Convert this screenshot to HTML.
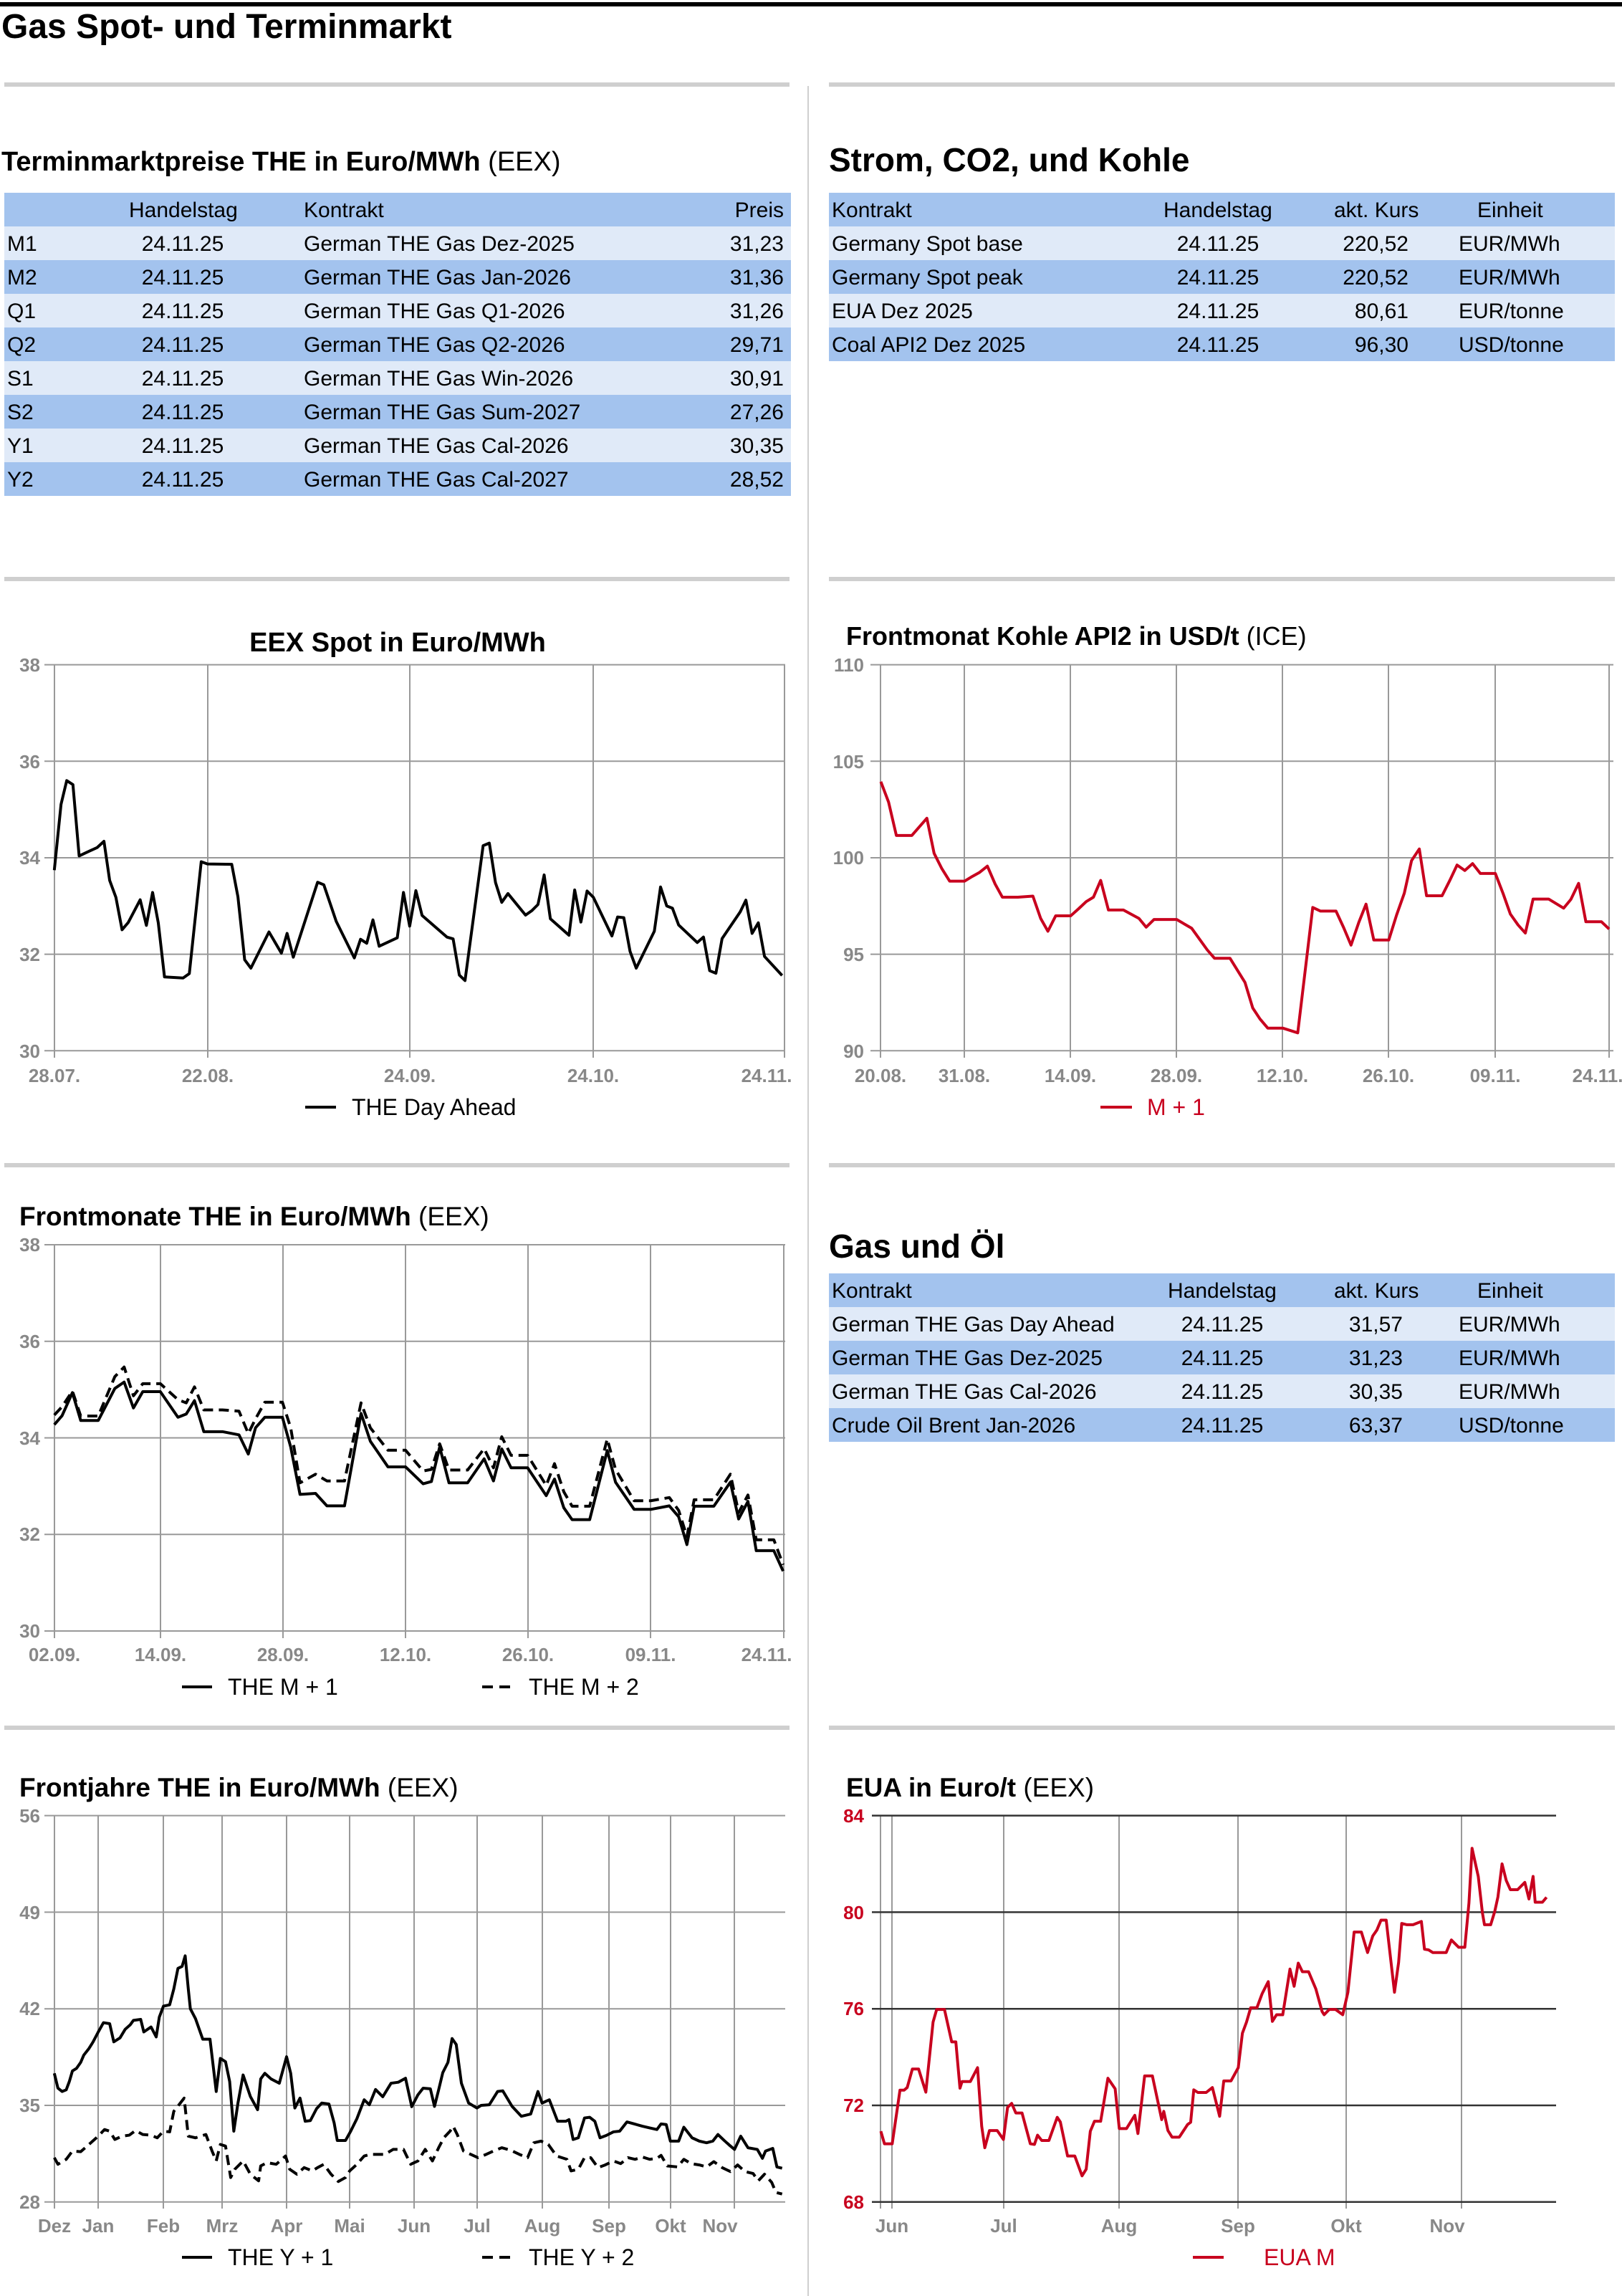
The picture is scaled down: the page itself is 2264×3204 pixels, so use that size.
<!DOCTYPE html>
<html><head><meta charset="utf-8"><style>
html,body{margin:0;padding:0;background:#fff;}
svg{display:block;font-family:"Liberation Sans",Arial,sans-serif;}
.tl{font-size:26px;font-weight:bold;fill:#888;}
.tb{font-size:30px;fill:#000;}
.g{stroke:#999;stroke-width:2;fill:none;}
.d{fill:none;stroke-width:4;stroke-linejoin:round;vector-effect:non-scaling-stroke;}
</style></head><body>
<svg width="2264" height="3204" viewBox="0 0 2264 3204" xmlns="http://www.w3.org/2000/svg">
<rect x="0" y="3" width="2264" height="6" fill="#000"/>
<text x="2" y="53" font-size="48" font-weight="bold">Gas Spot- und Terminmarkt</text>
<g fill="#cfcfcf">
<rect x="6" y="115" width="1096" height="6"/><rect x="1157" y="115" width="1097" height="6"/>
<rect x="6" y="805" width="1096" height="6"/><rect x="1157" y="805" width="1097" height="6"/>
<rect x="6" y="1623" width="1096" height="6"/><rect x="1157" y="1623" width="1097" height="6"/>
<rect x="6" y="2408" width="1096" height="6"/><rect x="1157" y="2408" width="1097" height="6"/>
<rect x="1127" y="120" width="2" height="3084"/>
</g>

<!-- Left table -->
<text x="2" y="238" font-size="38"><tspan font-weight="bold">Terminmarktpreise THE in Euro/MWh</tspan> (EEX)</text>
<g>
<rect x="6" y="269" width="1098" height="47" fill="#a3c3ee"/>
<rect x="6" y="316" width="1098" height="47" fill="#e0eaf8"/>
<rect x="6" y="363" width="1098" height="47" fill="#a3c3ee"/>
<rect x="6" y="410" width="1098" height="47" fill="#e0eaf8"/>
<rect x="6" y="457" width="1098" height="47" fill="#a3c3ee"/>
<rect x="6" y="504" width="1098" height="47" fill="#e0eaf8"/>
<rect x="6" y="551" width="1098" height="47" fill="#a3c3ee"/>
<rect x="6" y="598" width="1098" height="47" fill="#e0eaf8"/>
<rect x="6" y="645" width="1098" height="47" fill="#a3c3ee"/>
</g>
<g class="tb">
<text x="180" y="303">Handelstag</text><text x="424" y="303">Kontrakt</text><text x="1094" y="303" text-anchor="end">Preis</text>
<text x="10" y="350">M1</text><text x="255" y="350" text-anchor="middle">24.11.25</text><text x="424" y="350">German THE Gas Dez-2025</text><text x="1094" y="350" text-anchor="end">31,23</text>
<text x="10" y="397">M2</text><text x="255" y="397" text-anchor="middle">24.11.25</text><text x="424" y="397">German THE Gas Jan-2026</text><text x="1094" y="397" text-anchor="end">31,36</text>
<text x="10" y="444">Q1</text><text x="255" y="444" text-anchor="middle">24.11.25</text><text x="424" y="444">German THE Gas Q1-2026</text><text x="1094" y="444" text-anchor="end">31,26</text>
<text x="10" y="491">Q2</text><text x="255" y="491" text-anchor="middle">24.11.25</text><text x="424" y="491">German THE Gas Q2-2026</text><text x="1094" y="491" text-anchor="end">29,71</text>
<text x="10" y="538">S1</text><text x="255" y="538" text-anchor="middle">24.11.25</text><text x="424" y="538">German THE Gas Win-2026</text><text x="1094" y="538" text-anchor="end">30,91</text>
<text x="10" y="585">S2</text><text x="255" y="585" text-anchor="middle">24.11.25</text><text x="424" y="585">German THE Gas Sum-2027</text><text x="1094" y="585" text-anchor="end">27,26</text>
<text x="10" y="632">Y1</text><text x="255" y="632" text-anchor="middle">24.11.25</text><text x="424" y="632">German THE Gas Cal-2026</text><text x="1094" y="632" text-anchor="end">30,35</text>
<text x="10" y="679">Y2</text><text x="255" y="679" text-anchor="middle">24.11.25</text><text x="424" y="679">German THE Gas Cal-2027</text><text x="1094" y="679" text-anchor="end">28,52</text>
</g>

<!-- Right table 1 -->
<text x="1157" y="239" font-size="46" font-weight="bold">Strom, CO2, und Kohle</text>
<rect x="1157" y="269" width="1097" height="47" fill="#a3c3ee"/>
<rect x="1157" y="316" width="1097" height="47" fill="#e0eaf8"/>
<rect x="1157" y="363" width="1097" height="47" fill="#a3c3ee"/>
<rect x="1157" y="410" width="1097" height="47" fill="#e0eaf8"/>
<rect x="1157" y="457" width="1097" height="47" fill="#a3c3ee"/>
<g class="tb">
<text x="1161" y="303">Kontrakt</text><text x="1624" y="303">Handelstag</text><text x="1862" y="303">akt. Kurs</text><text x="2062" y="303">Einheit</text>
<text x="1161" y="350">Germany Spot base</text><text x="1700" y="350" text-anchor="middle">24.11.25</text><text x="1966" y="350" text-anchor="end">220,52</text><text x="2036" y="350">EUR/MWh</text>
<text x="1161" y="397">Germany Spot peak</text><text x="1700" y="397" text-anchor="middle">24.11.25</text><text x="1966" y="397" text-anchor="end">220,52</text><text x="2036" y="397">EUR/MWh</text>
<text x="1161" y="444">EUA Dez 2025</text><text x="1700" y="444" text-anchor="middle">24.11.25</text><text x="1966" y="444" text-anchor="end">80,61</text><text x="2036" y="444">EUR/tonne</text>
<text x="1161" y="491">Coal API2 Dez 2025</text><text x="1700" y="491" text-anchor="middle">24.11.25</text><text x="1966" y="491" text-anchor="end">96,30</text><text x="2036" y="491">USD/tonne</text>
</g>

<!-- Right table 2 -->
<text x="1157" y="1755" font-size="46" font-weight="bold">Gas und Öl</text>
<rect x="1157" y="1777" width="1097" height="47" fill="#a3c3ee"/>
<rect x="1157" y="1824" width="1097" height="47" fill="#e0eaf8"/>
<rect x="1157" y="1871" width="1097" height="47" fill="#a3c3ee"/>
<rect x="1157" y="1918" width="1097" height="47" fill="#e0eaf8"/>
<rect x="1157" y="1965" width="1097" height="47" fill="#a3c3ee"/>
<g class="tb">
<text x="1161" y="1811">Kontrakt</text><text x="1630" y="1811">Handelstag</text><text x="1862" y="1811">akt. Kurs</text><text x="2062" y="1811">Einheit</text>
<text x="1161" y="1858">German THE Gas Day Ahead</text><text x="1706" y="1858" text-anchor="middle">24.11.25</text><text x="1958" y="1858" text-anchor="end">31,57</text><text x="2036" y="1858">EUR/MWh</text>
<text x="1161" y="1905">German THE Gas Dez-2025</text><text x="1706" y="1905" text-anchor="middle">24.11.25</text><text x="1958" y="1905" text-anchor="end">31,23</text><text x="2036" y="1905">EUR/MWh</text>
<text x="1161" y="1952">German THE Gas Cal-2026</text><text x="1706" y="1952" text-anchor="middle">24.11.25</text><text x="1958" y="1952" text-anchor="end">30,35</text><text x="2036" y="1952">EUR/MWh</text>
<text x="1161" y="1999">Crude Oil Brent Jan-2026</text><text x="1706" y="1999" text-anchor="middle">24.11.25</text><text x="1958" y="1999" text-anchor="end">63,37</text><text x="2036" y="1999">USD/tonne</text>
</g>

<!-- EEX Spot -->
<text x="555" y="909" font-size="38" font-weight="bold" text-anchor="middle">EEX Spot in Euro/MWh</text>
<g class="g">
<path d="M62 927.6H1096M62 1062.3H1096M62 1197H1096M62 1331.6H1096M62 1466.3H1096"/>
<path d="M76 927.6V1476M290 927.6V1476M572 927.6V1476M828 927.6V1476M1095 927.6V1476"/>
</g>
<g class="tl" text-anchor="end">
<text x="56" y="937">38</text><text x="56" y="1072">36</text><text x="56" y="1206">34</text><text x="56" y="1341">32</text><text x="56" y="1476">30</text>
</g>
<g class="tl" text-anchor="middle">
<text x="76" y="1510">28.07.</text><text x="290" y="1510">22.08.</text><text x="572" y="1510">24.09.</text><text x="828" y="1510">24.10.</text><text x="1070" y="1510">24.11.</text>
</g>
<g transform="translate(0,800) scale(0.722,0.5102)">
<polyline class="d" stroke="#000" points="105,812 118,632 129,567 141,578 153,773 165,765 188,750 201,733 212,840 224,886 236,975 248,955 271,893 283,963 295,873 306,956 318,1104 354,1107 366,1095 389,789 401,795 448,796 460,885 473,1057 485,1080 520,981 544,1039 555,985 567,1050 614,845 626,852 650,952 685,1052 697,1001 709,1012 721,948 733,1020 768,997 780,873 792,965 804,868 816,936 864,995 876,1000 888,1099 899,1114 934,745 946,738 958,846 970,900 982,876 1016,935 1028,923 1040,906 1052,825 1064,945 1100,990 1111,866 1123,954 1135,869 1147,886 1183,992 1194,940 1206,942 1218,1034 1230,1080 1265,979 1277,858 1289,910 1300,916 1312,962 1348,1010 1360,995 1372,1087 1384,1094 1396,999 1431,926 1442,894 1454,985 1466,956 1478,1048 1512,1100"/>
</g>
<line x1="426" y1="1545" x2="469" y2="1545" stroke="#000" stroke-width="4"/>
<text x="491" y="1556" font-size="32">THE Day Ahead</text>

<!-- Kohle -->
<text x="1181" y="900" font-size="36"><tspan font-weight="bold">Frontmonat Kohle API2 in USD/t</tspan> (ICE)</text>
<g class="g">
<path d="M1215 927.6H2252M1215 1062.3H2252M1215 1197H2252M1215 1331.6H2252M1215 1466.3H2252"/>
<path d="M1229 927.6V1476M1346 927.6V1476M1494 927.6V1476M1642 927.6V1476M1790 927.6V1476M1938 927.6V1476M2087 927.6V1476M2246 927.6V1476"/>
</g>
<g class="tl" text-anchor="end">
<text x="1206" y="937">110</text><text x="1206" y="1072">105</text><text x="1206" y="1206">100</text><text x="1206" y="1341">95</text><text x="1206" y="1476">90</text>
</g>
<g class="tl" text-anchor="middle">
<text x="1229" y="1510">20.08.</text><text x="1346" y="1510">31.08.</text><text x="1494" y="1510">14.09.</text><text x="1642" y="1510">28.09.</text><text x="1790" y="1510">12.10.</text><text x="1938" y="1510">26.10.</text><text x="2087" y="1510">09.11.</text><text x="2230" y="1510">24.11.</text>
</g>
<g transform="translate(1132,800) scale(0.722,0.5102)">
<polyline class="d" stroke="#c8001e" points="135,570 150,626 165,717 195,717 224,670 238,766 253,808 268,842 297,842 312,829 326,818 341,801 356,850 370,886 400,886 429,883 444,944 458,979 473,937 502,937 517,918 532,898 546,886 560,840 575,921 604,921 634,944 648,968 663,947 707,947 736,971 766,1030 780,1053 810,1053 839,1119 854,1189 868,1219 883,1244 912,1244 941,1257 970,914 985,924 1015,924 1030,970 1044,1017 1059,955 1073,905 1088,1003 1117,1003 1132,935 1147,875 1161,786 1176,754 1190,882 1220,882 1235,840 1249,798 1264,813 1279,794 1294,821 1323,821 1338,876 1352,932 1367,962 1381,984 1396,891 1426,891 1455,916 1469,892 1484,848 1498,953 1528,953 1543,973"/>
</g>
<line x1="1536" y1="1545" x2="1580" y2="1545" stroke="#c8001e" stroke-width="4"/>
<text x="1601" y="1556" font-size="32" fill="#c8001e">M + 1</text>

<!-- Frontmonate -->
<text x="27" y="1710" font-size="37"><tspan font-weight="bold">Frontmonate THE in Euro/MWh</tspan> (EEX)</text>
<g class="g">
<path d="M62 1737H1096M62 1871.8H1096M62 2006.5H1096M62 2141.3H1096M62 2276H1096"/>
<path d="M76 1737V2286M224 1737V2286M395 1737V2286M566 1737V2286M737 1737V2286M908 1737V2286M1094 1737V2286"/>
</g>
<g class="tl" text-anchor="end">
<text x="56" y="1746">38</text><text x="56" y="1881">36</text><text x="56" y="2016">34</text><text x="56" y="2150">32</text><text x="56" y="2285">30</text>
</g>
<g class="tl" text-anchor="middle">
<text x="76" y="2318">02.09.</text><text x="224" y="2318">14.09.</text><text x="395" y="2318">28.09.</text><text x="566" y="2318">12.10.</text><text x="737" y="2318">26.10.</text><text x="908" y="2318">09.11.</text><text x="1070" y="2318">24.11.</text>
</g>
<g transform="translate(0,1680) scale(0.722,0.4464)">
<polyline class="d" stroke="#000" stroke-dasharray="14 8" points="105,660 120,634 140,585 156,663 190,663 222,540 240,510 258,600 276,562 310,562 344,612 360,622 376,572 394,644 430,644 462,648 480,718 494,672 512,620 546,620 562,700 580,872 610,845 632,866 666,866 698,622 716,700 750,770 784,770 818,835 834,830 850,750 868,832 904,832 936,765 954,825 970,728 988,786 1020,786 1056,880 1072,812 1090,900 1106,945 1140,945 1174,735 1190,830 1226,928 1258,928 1294,918 1312,958 1328,1040 1342,925 1380,925 1412,845 1428,965 1446,910 1462,1050 1496,1050 1514,1128"/>
<polyline class="d" stroke="#000" points="105,690 120,662 140,590 156,677 190,677 222,577 240,557 258,638 276,587 310,587 344,667 360,657 376,615 394,712 430,712 462,722 480,782 494,700 512,667 546,667 562,760 580,908 610,905 632,944 666,944 698,655 716,742 750,822 784,822 818,875 834,868 850,760 868,872 904,872 936,797 954,866 970,766 988,825 1020,825 1056,912 1072,860 1090,950 1106,987 1140,987 1174,771 1190,870 1226,955 1258,955 1294,944 1312,978 1328,1065 1342,945 1380,945 1412,870 1428,985 1446,930 1462,1084 1496,1084 1514,1148"/>
</g>
<line x1="254" y1="2354" x2="296" y2="2354" stroke="#000" stroke-width="4"/>
<text x="318" y="2365" font-size="32">THE M + 1</text>
<line x1="673" y1="2354" x2="716" y2="2354" stroke="#000" stroke-width="4" stroke-dasharray="15 9"/>
<text x="738" y="2365" font-size="32">THE M + 2</text>

<!-- Frontjahre -->
<text x="27" y="2507" font-size="37"><tspan font-weight="bold">Frontjahre THE in Euro/MWh</tspan> (EEX)</text>
<g class="g">
<path d="M62 2533.6H1096M62 2668.4H1096M62 2803.2H1096M62 2938H1096M62 3072.8H1096"/>
<path d="M76 2533.6V3082M137 2533.6V3082M228 2533.6V3082M310 2533.6V3082M400 2533.6V3082M488 2533.6V3082M578 2533.6V3082M666 2533.6V3082M757 2533.6V3082M850 2533.6V3082M936 2533.6V3082M1025 2533.6V3082"/>
</g>
<g class="tl" text-anchor="end">
<text x="56" y="2543">56</text><text x="56" y="2678">49</text><text x="56" y="2812">42</text><text x="56" y="2947">35</text><text x="56" y="3082">28</text>
</g>
<g class="tl" text-anchor="middle">
<text x="76" y="3115">Dez</text><text x="137" y="3115">Jan</text><text x="228" y="3115">Feb</text><text x="310" y="3115">Mrz</text><text x="400" y="3115">Apr</text><text x="488" y="3115">Mai</text><text x="578" y="3115">Jun</text><text x="666" y="3115">Jul</text><text x="757" y="3115">Aug</text><text x="850" y="3115">Sep</text><text x="936" y="3115">Okt</text><text x="1005" y="3115">Nov</text>
</g>
<g transform="translate(0,2480) scale(0.722,0.4617)">
<polyline class="d" stroke="#000" stroke-dasharray="14 8" points="105,1150 112,1170 128,1155 140,1130 156,1132 172,1110 190,1085 202,1065 212,1070 222,1095 236,1085 250,1082 262,1068 276,1080 292,1082 304,1090 316,1070 328,1072 336,1010 346,990 356,970 364,1085 378,1090 398,1080 410,1130 418,1160 426,1110 436,1115 446,1210 454,1185 470,1160 484,1200 500,1220 504,1175 516,1165 534,1170 552,1145 560,1185 574,1200 588,1180 604,1190 614,1180 626,1170 640,1200 654,1222 668,1210 676,1190 690,1170 704,1145 716,1140 730,1140 744,1140 760,1125 780,1125 794,1170 808,1160 822,1125 836,1160 848,1120 858,1090 870,1070 876,1055 884,1080 896,1130 910,1140 924,1150 940,1140 954,1130 970,1120 988,1128 1004,1140 1020,1150 1032,1105 1046,1100 1060,1110 1076,1145 1096,1155 1104,1190 1118,1185 1130,1150 1142,1150 1156,1180 1170,1172 1186,1160 1200,1168 1214,1150 1228,1155 1242,1148 1256,1155 1270,1152 1278,1143 1290,1175 1310,1178 1322,1155 1336,1168 1352,1172 1366,1178 1380,1162 1396,1180 1412,1192 1426,1172 1440,1192 1456,1198 1466,1220 1478,1200 1492,1225 1500,1255 1512,1260"/>
<polyline class="d" stroke="#000" points="105,895 112,940 120,950 128,945 134,920 140,888 148,880 156,862 162,840 172,820 180,800 190,770 200,742 212,745 220,800 232,788 242,762 252,748 258,735 272,732 278,770 292,755 302,785 308,725 316,692 328,688 336,640 344,578 352,572 358,540 364,640 368,700 378,730 392,792 406,792 418,950 426,850 436,860 444,920 452,1070 460,985 470,900 484,965 498,1005 504,912 512,895 524,912 540,925 554,845 562,895 570,1000 580,970 590,1040 600,1038 612,1002 622,985 636,988 646,1045 652,1098 668,1098 678,1070 690,1032 704,975 714,990 726,944 740,966 756,925 770,922 784,910 796,996 808,960 818,940 832,942 840,995 848,945 856,893 866,862 874,790 882,808 892,925 906,985 922,1000 930,992 946,990 962,950 972,948 990,995 1008,1025 1026,1018 1040,950 1048,985 1062,975 1078,1040 1094,1040 1100,1035 1108,1095 1118,1090 1130,1030 1140,1028 1150,1040 1160,1090 1172,1083 1186,1072 1198,1070 1212,1042 1226,1048 1242,1055 1256,1060 1270,1065 1278,1048 1288,1050 1296,1100 1312,1100 1322,1058 1338,1090 1352,1100 1366,1105 1378,1100 1388,1080 1400,1098 1410,1112 1420,1125 1432,1085 1446,1120 1464,1125 1474,1152 1480,1130 1494,1122 1502,1178 1512,1182"/>
</g>
<line x1="254" y1="3150" x2="296" y2="3150" stroke="#000" stroke-width="4"/>
<text x="318" y="3161" font-size="32">THE Y + 1</text>
<line x1="673" y1="3150" x2="716" y2="3150" stroke="#000" stroke-width="4" stroke-dasharray="15 9"/>
<text x="738" y="3161" font-size="32">THE Y + 2</text>

<!-- EUA -->
<text x="1181" y="2507" font-size="37"><tspan font-weight="bold">EUA in Euro/t</tspan> (EEX)</text>
<g class="g">
<path d="M1229 2533.6V3082M1245 2533.6V3082M1401 2533.6V3082M1562 2533.6V3082M1728 2533.6V3082M1879 2533.6V3082M2040 2533.6V3082"/>
</g>
<g stroke="#333" stroke-width="2.5">
<path d="M1217 2533.6H2172M1217 2668.4H2172M1217 2803.2H2172M1217 2938H2172M1217 3072.8H2172"/>
</g>
<g class="tl" text-anchor="end" style="fill:#c8001e">
<text x="1206" y="2543">84</text><text x="1206" y="2678">80</text><text x="1206" y="2812">76</text><text x="1206" y="2947">72</text><text x="1206" y="3082">68</text>
</g>
<g class="tl" text-anchor="middle">
<text x="1245" y="3115">Jun</text><text x="1401" y="3115">Jul</text><text x="1562" y="3115">Aug</text><text x="1728" y="3115">Sep</text><text x="1879" y="3115">Okt</text><text x="2020" y="3115">Nov</text>
</g>
<g transform="translate(1132,2480) scale(0.722,0.4617)">
<polyline class="d" stroke="#c8001e" points="135,1070 142,1108 157,1108 172,946 180,946 186,938 196,882 208,882 222,952 236,740 243,702 258,702 272,800 280,800 288,940 292,920 308,920 322,878 330,1055 336,1120 345,1068 360,1068 372,1095 380,998 388,986 396,1015 408,1015 424,1108 432,1110 438,1082 446,1098 460,1098 476,1028 482,1042 496,1145 510,1145 524,1205 532,1185 540,1070 548,1040 560,1040 574,910 588,942 596,1062 610,1062 626,1022 632,1077 645,903 660,903 678,1035 682,1010 690,1068 698,1088 712,1088 728,1050 734,1043 740,945 748,953 764,953 776,938 790,1025 798,918 812,918 826,878 834,774 842,740 850,697 862,697 872,655 880,630 884,618 892,738 900,718 912,718 926,580 934,632 942,562 950,588 962,588 976,640 988,708 992,718 1002,702 1014,702 1028,718 1038,650 1050,468 1064,468 1076,530 1086,480 1094,462 1102,432 1112,432 1128,650 1136,560 1142,442 1152,446 1164,446 1180,436 1186,520 1194,522 1202,530 1228,530 1238,492 1252,514 1264,514 1272,380 1278,215 1290,300 1298,410 1302,446 1314,446 1322,405 1328,362 1336,262 1344,312 1352,340 1366,340 1380,318 1388,368 1396,300 1400,378 1414,378 1422,363"/>
</g>
<line x1="1665" y1="3150" x2="1708" y2="3150" stroke="#c8001e" stroke-width="4"/>
<text x="1764" y="3161" font-size="32" fill="#c8001e">EUA M</text>
</svg>
</body></html>
